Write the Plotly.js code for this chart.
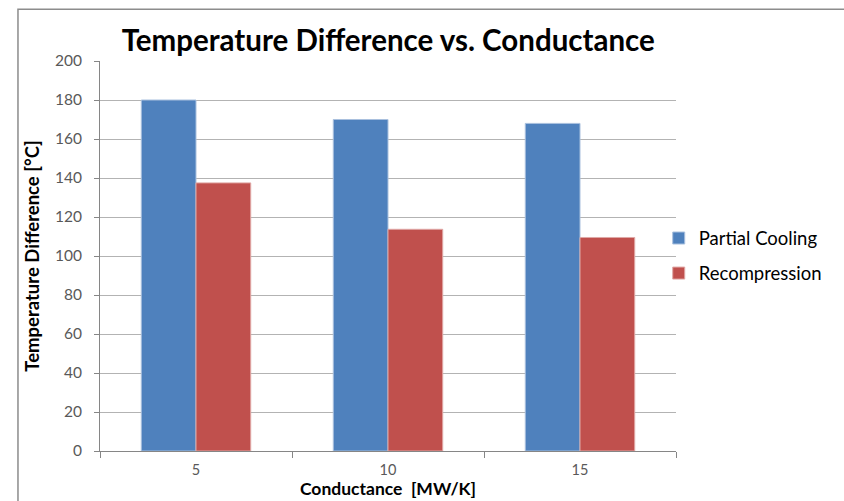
<!DOCTYPE html>
<html>
<head>
<meta charset="utf-8">
<script src="https://cdn.plot.ly/plotly-3.0.1.min.js"></script>
<style>html,body{margin:0;padding:0;background:#fff;}#chart{width:844px;height:501px;}</style>
</head>
<body>
<div id="chart"></div>
<script>
var categories = ["5", "10", "15"];
var partialCooling = [180, 170, 168];
var recompression = [137.5, 113.7, 109.5];
var seriesNames = ["Partial Cooling", "Recompression"];
var yTicks = [0, 20, 40, 60, 80, 100, 120, 140, 160, 180, 200];

var FONT = "Lato, 'Open Sans', sans-serif";

var traces = [
  {type: "bar", name: seriesNames[0], x: categories, y: partialCooling,
   legendgroup: "a",
   marker: {color: "#4F81BD", line: {color: "#a9c0de", width: 1}}},
  {type: "bar", name: seriesNames[1], x: categories, y: recompression,
   legendgroup: "b",
   marker: {color: "#C0504D", line: {color: "#e0a8a6", width: 1}}}
];

var layout = {
  width: 844, height: 501,
  margin: {l: 100, r: 168, t: 61, b: 50, pad: 0},
  paper_bgcolor: "#ffffff", plot_bgcolor: "#ffffff",
  font: {family: FONT, color: "#404040"},
  barmode: "group", bargap: 0.43, bargroupgap: 0,
  title: {text: "<b>Temperature Difference vs. Conductance</b>",
          font: {family: FONT, size: 29.5, color: "#000000"},
          x: 0.46, xanchor: "center", y: 0.918, yanchor: "middle"},
  xaxis: {type: "category", tickson: "boundaries", ticks: "outside", ticklen: 6,
          tickcolor: "#868686", showline: true, linecolor: "#868686", linewidth: 1,
          showgrid: false, tickfont: {size: 14.5, color: "#595959"}, ticklabelstandoff: 6,
          title: {text: "<b>Conductance  [MW/K]</b>", font: {size: 17.5, color: "#000000"}, standoff: 3},
          fixedrange: true},
  yaxis: {range: [0, 200], tickvals: yTicks, ticks: "outside", ticklen: 5,
          tickcolor: "#868686", showline: true, linecolor: "#868686", linewidth: 1,
          showgrid: true, gridcolor: "#b3b3b3", gridwidth: 1, zeroline: false,
          tickfont: {size: 15.5, color: "#595959"}, ticklabelstandoff: 9,
          title: {text: "<b>Temperature Difference [°C]</b>", font: {size: 18.5, color: "#000000"}, standoff: 10},
          fixedrange: true},
  showlegend: true,
  legend: {x: 0.97, xanchor: "left", y: 0.50, yanchor: "middle",
           traceorder: "grouped", tracegroupgap: 8,
           font: {size: 18.5, color: "#000000"}, bgcolor: "rgba(0,0,0,0)"},
  shapes: [
    {type: "rect", xref: "paper", yref: "paper", x0: -0.1424, x1: 1.35, y0: -0.3, y1: 1.133,
     line: {color: "#8c8c8c", width: 1.5}, fillcolor: "rgba(0,0,0,0)", layer: "below"}
  ]
};

Plotly.newPlot("chart", traces, layout, {displayModeBar: false, staticPlot: true});
</script>
</body>
</html>
